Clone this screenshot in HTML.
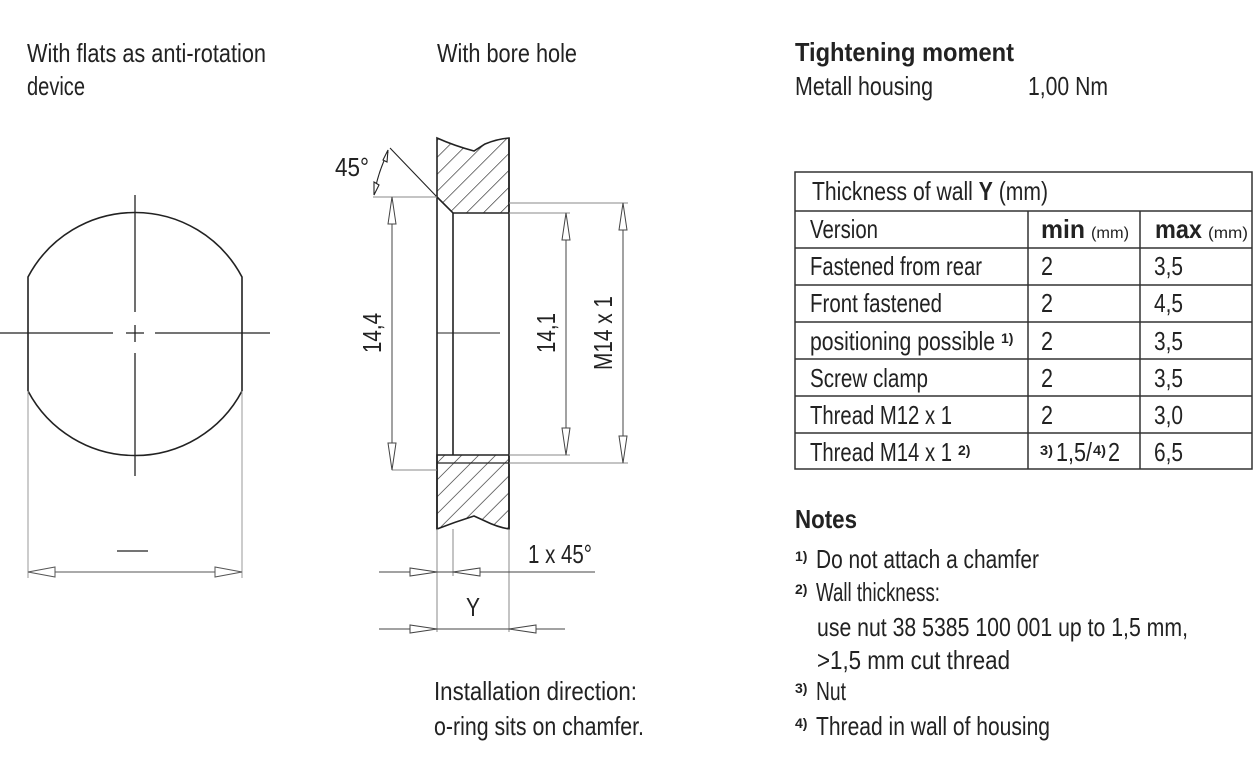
<!DOCTYPE html>
<html><head><meta charset="utf-8"><style>
html,body{margin:0;padding:0;background:#fff}
svg{display:block}
text{font-family:"Liberation Sans Narrow","Liberation Sans",sans-serif;fill:#222;font-size:26px}
.b{font-weight:bold}
.s{font-size:14px;font-weight:bold}
.sm{font-size:16px}
</style></head><body>
<svg width="1254" height="765" viewBox="0 0 1254 765" xmlns="http://www.w3.org/2000/svg">
<defs>
<pattern id="h" patternUnits="userSpaceOnUse" width="12" height="12" patternTransform="rotate(45)">
<line x1="0" y1="0" x2="0" y2="12" stroke="#222" stroke-width="1.3"/>
</pattern>
</defs>
<text x="27" y="62" textLength="239" lengthAdjust="spacingAndGlyphs">With flats as anti-rotation</text>
<text x="27" y="95" textLength="58" lengthAdjust="spacingAndGlyphs">device</text>
<text x="437" y="62" textLength="140" lengthAdjust="spacingAndGlyphs">With bore hole</text>

<g stroke="#222" stroke-width="1.6" fill="none">
<path d="M28,277 A121,121 0 0 1 242,277 L242,391 A121,121 0 0 1 28,391 Z"/>
</g>
<g stroke="#222" stroke-width="1.3">
<line x1="135" y1="195" x2="135" y2="312"/><line x1="135" y1="353" x2="135" y2="476"/>
<line x1="0" y1="333" x2="113" y2="333"/><line x1="155" y1="333" x2="270" y2="333"/>
<line x1="126" y1="333" x2="144" y2="333"/><line x1="135" y1="325" x2="135" y2="342"/>
<line x1="117" y1="551" x2="148" y2="551"/>
</g>
<g stroke="#999" stroke-width="1">
<line x1="28" y1="391" x2="28" y2="578"/><line x1="242" y1="391" x2="242" y2="578"/>
<line x1="28" y1="572" x2="242" y2="572" stroke="#555"/>
<path d="M28,572 L55,567 L55,577 Z M242,572 L215,567 L215,577 Z" fill="#fff" stroke="#555"/>
</g>

<path d="M437,138 Q455,146 474,151 L485,144 Q497,139 509,138 L509,213 L453,213 L437,197 Z" fill="url(#h)" stroke="#222" stroke-width="1.6"/>
<path d="M437,455 L509,455 L509,529 Q497,527 485,521 L474,516 Q455,522 437,529 Z" fill="url(#h)" stroke="#222" stroke-width="1.6"/>
<g stroke="#222" stroke-width="1.6" fill="none">
<line x1="437" y1="197" x2="437" y2="529"/>
<line x1="453" y1="213" x2="453" y2="455"/>
<line x1="509" y1="138" x2="509" y2="529"/>
<line x1="437" y1="463" x2="509" y2="463" stroke-width="1.2"/>
</g>
<g stroke="#222" stroke-width="1.1" fill="none">
<line x1="437" y1="333" x2="500" y2="333"/>
<line x1="437" y1="197" x2="390" y2="148"/>
<path d="M388,152 Q378,172 374,195"/>
<path d="M383,160 l5,-10 l-1,12 Z M374,195 l0,-13 l5,3 Z" fill="#fff"/>
</g>
<g stroke="#888" stroke-width="1" fill="none">
<line x1="373" y1="197" x2="437" y2="197"/>
<line x1="392" y1="470" x2="437" y2="470"/>
<line x1="509" y1="203" x2="628" y2="203"/>
<line x1="509" y1="213" x2="570" y2="213"/>
<line x1="509" y1="455" x2="570" y2="455"/>
<line x1="509" y1="463" x2="628" y2="463"/>
<line x1="437" y1="529" x2="437" y2="632"/>
<line x1="453" y1="529" x2="453" y2="576"/>
<line x1="509" y1="529" x2="509" y2="632"/>
</g>
<g stroke="#444" stroke-width="1" fill="#fff">
<line x1="392" y1="197" x2="392" y2="470"/>
<path d="M392,197 l-4,27 l8,0 Z M392,470 l-4,-27 l8,0 Z"/>
<line x1="566" y1="213" x2="566" y2="455"/>
<path d="M566,213 l-4,27 l8,0 Z M566,455 l-4,-27 l8,0 Z"/>
<line x1="623" y1="203" x2="623" y2="463"/>
<path d="M623,203 l-4,27 l8,0 Z M623,463 l-4,-27 l8,0 Z"/>
<line x1="379" y1="572" x2="595" y2="572"/>
<path d="M437,572 l-27,-4 l0,8 Z M453,572 l27,-4 l0,8 Z"/>
<line x1="379" y1="629" x2="565" y2="629"/>
<path d="M437,629 l-27,-4 l0,8 Z M509,629 l27,-4 l0,8 Z"/>
</g>
<text x="335" y="176" textLength="34" lengthAdjust="spacingAndGlyphs">45°</text>
<text transform="translate(381,333) rotate(-90)" text-anchor="middle" textLength="40" lengthAdjust="spacingAndGlyphs">14,4</text>
<text transform="translate(555,333) rotate(-90)" text-anchor="middle" textLength="40" lengthAdjust="spacingAndGlyphs">14,1</text>
<text transform="translate(612,333) rotate(-90)" text-anchor="middle" textLength="74" lengthAdjust="spacingAndGlyphs">M14 x 1</text>
<text x="528" y="563" textLength="64" lengthAdjust="spacingAndGlyphs">1 x 45°</text>
<text x="466" y="616" textLength="14" lengthAdjust="spacingAndGlyphs">Y</text>
<text x="434" y="700" textLength="203" lengthAdjust="spacingAndGlyphs">Installation direction:</text>
<text x="434" y="735" textLength="210" lengthAdjust="spacingAndGlyphs">o-ring sits on chamfer.</text>

<text x="795" y="61" class="b" textLength="219" lengthAdjust="spacingAndGlyphs">Tightening moment</text>
<text x="795" y="95" textLength="138" lengthAdjust="spacingAndGlyphs">Metall housing</text>
<text x="1028" y="95" textLength="80" lengthAdjust="spacingAndGlyphs">1,00 Nm</text>

<g stroke="#333" stroke-width="1.5" fill="none">
<rect x="795" y="172" width="457" height="297"/>
<line x1="795" y1="211" x2="1252" y2="211"/>
<line x1="795" y1="248" x2="1252" y2="248"/>
<line x1="795" y1="285" x2="1252" y2="285"/>
<line x1="795" y1="322" x2="1252" y2="322"/>
<line x1="795" y1="359" x2="1252" y2="359"/>
<line x1="795" y1="396" x2="1252" y2="396"/>
<line x1="795" y1="433" x2="1252" y2="433"/>
<line x1="1028" y1="211" x2="1028" y2="469"/>
<line x1="1140" y1="211" x2="1140" y2="469"/>
</g>
<text x="812" y="200" textLength="236" lengthAdjust="spacingAndGlyphs">Thickness of wall <tspan class="b">Y</tspan> (mm)</text>
<text x="810" y="238" textLength="68" lengthAdjust="spacingAndGlyphs">Version</text>
<text x="1041" y="238" class="b" textLength="44" lengthAdjust="spacingAndGlyphs">min</text><text x="1091" y="238" class="sm" textLength="38" lengthAdjust="spacingAndGlyphs">(mm)</text>
<text x="1155" y="238" class="b" textLength="47" lengthAdjust="spacingAndGlyphs">max</text><text x="1208" y="238" class="sm" textLength="40" lengthAdjust="spacingAndGlyphs">(mm)</text>
<text x="810" y="275" textLength="172" lengthAdjust="spacingAndGlyphs">Fastened from rear</text>
<text x="810" y="312" textLength="132" lengthAdjust="spacingAndGlyphs">Front fastened</text>
<text x="810" y="350" textLength="185" lengthAdjust="spacingAndGlyphs">positioning possible</text><text x="1001" y="343" class="s">1)</text>
<text x="810" y="387" textLength="118" lengthAdjust="spacingAndGlyphs">Screw clamp</text>
<text x="810" y="424" textLength="142" lengthAdjust="spacingAndGlyphs">Thread M12 x 1</text>
<text x="810" y="461" textLength="142" lengthAdjust="spacingAndGlyphs">Thread M14 x 1</text><text x="958" y="455" class="s">2)</text>
<g>
<text x="1041" y="275" textLength="12" lengthAdjust="spacingAndGlyphs">2</text>
<text x="1041" y="312" textLength="12" lengthAdjust="spacingAndGlyphs">2</text>
<text x="1041" y="350" textLength="12" lengthAdjust="spacingAndGlyphs">2</text>
<text x="1041" y="387" textLength="12" lengthAdjust="spacingAndGlyphs">2</text>
<text x="1041" y="424" textLength="12" lengthAdjust="spacingAndGlyphs">2</text>
</g>
<text x="1040" y="455" class="s" textLength="13" lengthAdjust="spacingAndGlyphs">3)</text><text x="1056" y="461" textLength="36" lengthAdjust="spacingAndGlyphs">1,5/</text><text x="1093" y="455" class="s" textLength="13" lengthAdjust="spacingAndGlyphs">4)</text><text x="1108" y="461" textLength="12" lengthAdjust="spacingAndGlyphs">2</text>
<g>
<text x="1154" y="275" textLength="29" lengthAdjust="spacingAndGlyphs">3,5</text>
<text x="1154" y="312" textLength="29" lengthAdjust="spacingAndGlyphs">4,5</text>
<text x="1154" y="350" textLength="29" lengthAdjust="spacingAndGlyphs">3,5</text>
<text x="1154" y="387" textLength="29" lengthAdjust="spacingAndGlyphs">3,5</text>
<text x="1154" y="424" textLength="29" lengthAdjust="spacingAndGlyphs">3,0</text>
<text x="1154" y="461" textLength="29" lengthAdjust="spacingAndGlyphs">6,5</text>
</g>

<text x="795" y="528" class="b" textLength="62" lengthAdjust="spacingAndGlyphs">Notes</text>
<text x="795" y="561" class="s">1)</text><text x="816" y="568" textLength="223" lengthAdjust="spacingAndGlyphs">Do not attach a chamfer</text>
<text x="795" y="594" class="s">2)</text><text x="816" y="601" textLength="124" lengthAdjust="spacingAndGlyphs">Wall thickness:</text>
<text x="817" y="636" textLength="371" lengthAdjust="spacingAndGlyphs">use nut 38 5385 100 001 up to 1,5 mm,</text>
<text x="817" y="669" textLength="193" lengthAdjust="spacingAndGlyphs">&gt;1,5 mm cut thread</text>
<text x="795" y="693" class="s">3)</text><text x="816" y="700" textLength="30" lengthAdjust="spacingAndGlyphs">Nut</text>
<text x="795" y="728" class="s">4)</text><text x="816" y="735" textLength="234" lengthAdjust="spacingAndGlyphs">Thread in wall of housing</text>
</svg>
</body></html>
